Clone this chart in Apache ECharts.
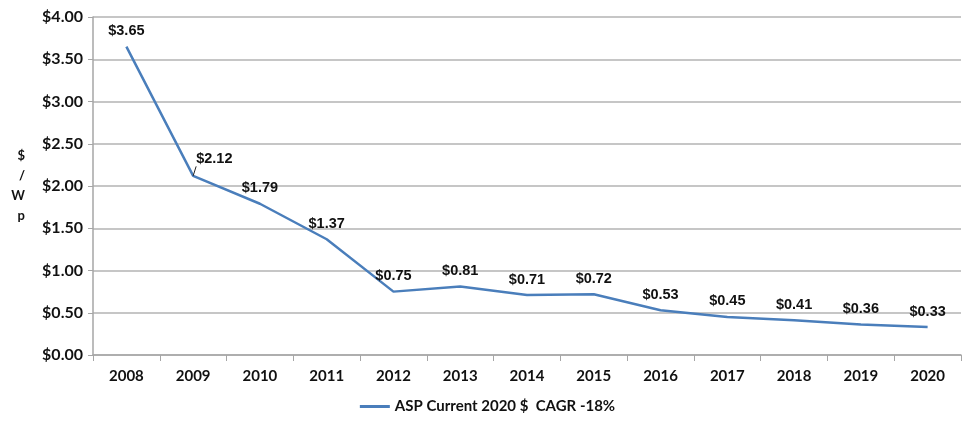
<!DOCTYPE html>
<html>
<head>
<meta charset="utf-8">
<script src="https://cdn.jsdelivr.net/npm/echarts@6/dist/echarts.min.js"></script>
<style>
html,body{margin:0;padding:0;background:#fff;}
#chart{width:975px;height:429px;}
</style>
</head>
<body>
<div id="chart"></div>
<script>
const years = ['2008','2009','2010','2011','2012','2013','2014','2015','2016','2017','2018','2019','2020'];
const aspValues = [3.65, 2.12, 1.79, 1.37, 0.75, 0.81, 0.71, 0.72, 0.53, 0.45, 0.41, 0.36, 0.33];
const seriesName = 'ASP Current 2020 $  CAGR -18%';
const yTicks = [0, 0.5, 1, 1.5, 2, 2.5, 3, 3.5, 4];

const chart = echarts.init(document.getElementById('chart'));
const data = aspValues.map((v, i) => {
  const item = { value: v };
  if (i === 1) {
    item.label = { position: 'right', offset: [-5, -17], padding: [0, 0, 7, 0] };
    item.labelLine = { show: true, lineStyle: { color: '#222', width: 1 } };
  }
  return item;
});
chart.setOption({
  animation: false,
  grid: { left: 93, right: 14, top: 17, bottom: 74 },
  legend: {
    bottom: 10,
    left: 'center',
    itemWidth: 30,
    itemHeight: 3,
    icon: 'rect',
    textStyle: { fontFamily: 'Lato', fontWeight: 'bold', fontSize: 15, color: '#111' },
    data: [seriesName]
  },
  xAxis: {
    type: 'category',
    data: years,
    boundaryGap: true,
    axisLine: { lineStyle: { color: '#a6a6a6', width: 1.5 } },
    axisTick: { show: true, length: 6, lineStyle: { color: '#a6a6a6' } },
    axisLabel: { fontFamily: 'Lato', fontWeight: 'bold', fontSize: 15, color: '#111', margin: 14 }
  },
  yAxis: {
    type: 'value',
    min: yTicks[0],
    max: yTicks[yTicks.length - 1],
    interval: 0.5,
    name: '$\n/\nW\np',
    nameLocation: 'middle',
    nameRotate: 0,
    nameGap: 68,
    nameTextStyle: { fontFamily: 'Lato', fontWeight: 'bold', fontSize: 13, lineHeight: 20, color: '#111' },
    axisLine: { show: true, lineStyle: { color: '#a6a6a6', width: 1.5 } },
    axisTick: { show: true, length: 5, lineStyle: { color: '#a6a6a6' } },
    splitLine: { lineStyle: { color: '#b3b3b3', width: 1.5 } },
    axisLabel: {
      fontFamily: 'Lato', fontWeight: 'bold', fontSize: 16, color: '#111', margin: 10,
      formatter: v => '$' + v.toFixed(2)
    }
  },
  series: [{
    name: seriesName,
    type: 'line',
    data: data,
    symbol: 'circle',
    showSymbol: true,
    symbolSize: 0,
    lineStyle: { color: '#4a7ebb', width: 2.5 },
    itemStyle: { color: '#4a7ebb' },
    label: {
      show: true,
      position: 'top',
      distance: 8,
      fontFamily: 'Liberation Sans',
      fontWeight: 'bold',
      fontSize: 14.5,
      color: '#111',
      formatter: p => '$' + p.value.toFixed(2)
    }
  }]
});
</script>
</body>
</html>
